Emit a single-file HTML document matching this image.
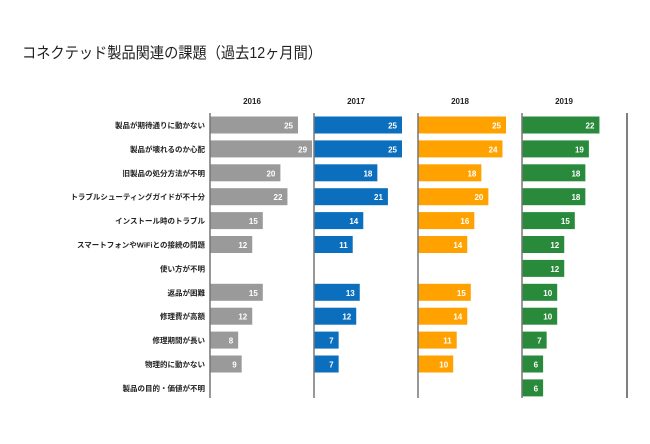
<!DOCTYPE html>
<html><head><meta charset="utf-8"><style>
body{margin:0;background:#fff;}
svg{display:block;font-family:"Liberation Sans","Noto Sans CJK JP",sans-serif;}
</style></head><body>
<svg id="c" width="650" height="444">
<text x="22" y="58" font-size="15.5" textLength="300" lengthAdjust="spacingAndGlyphs" fill="#222">コネクテッド製品関連の課題（過去12ヶ月間）</text>
</svg>
<script>
const categories=["製品が期待通りに動かない","製品が壊れるのか心配","旧製品の処分方法が不明","トラブルシューティングガイドが不十分","インストール時のトラブル","スマートフォンやWiFiとの接続の問題","使い方が不明","返品が困難","修理費が高額","修理期間が長い","物理的に動かない","製品の目的・価値が不明"];
const years=["2016","2017","2018","2019"];
const v2016=[25,29,20,22,15,12,null,15,12,8,9,null];
const v2017=[25,25,18,21,14,11,null,13,12,7,7,null];
const v2018=[25,24,18,20,16,14,null,15,14,11,10,null];
const v2019=[22,19,18,18,15,12,12,10,10,7,6,6];
const series=[v2016,v2017,v2018,v2019];
const colors=["#9a9a9a","#0b6fbd","#ffa200","#2a8a3c"];
const NS="http://www.w3.org/2000/svg";
const svg=document.getElementById('c');
const panelX=i=>210+i*104;
const xs=v=>v*3.52;
const yc=j=>125+j*23.9;
function mk(t,a){const e=document.createElementNS(NS,t);for(const k in a)e.setAttribute(k,a[k]);svg.appendChild(e);return e;}
categories.forEach((c,j)=>{
 const t=mk('text',{x:205,y:yc(j)+3,'font-size':7.5,'font-weight':'bold','text-anchor':'end',fill:'#222'});
 t.textContent=c;
 
 
});
series.forEach((s,i)=>{
 const px=panelX(i);
 s.forEach((v,j)=>{
  if(v==null)return;
  const r=mk('rect',{x:px,y:yc(j)-8.5,width:xs(v),height:17,fill:colors[i]});
  
  
  const t=mk('text',{x:px+xs(v)-5,y:yc(j)+3.5,'font-size':8,'font-weight':'bold','text-anchor':'end',fill:'#fff'});
  t.textContent=v;
  
  
 });
 const l=mk('line',{x1:px,x2:px,y1:113,y2:398,stroke:'#777','stroke-width':1.5});
 
 
 const h=mk('text',{x:px+42,y:104,'font-size':8,'font-weight':'bold','text-anchor':'middle',fill:'#222'});
 h.textContent=years[i];
 
 
});
const rl=mk('line',{x1:627,x2:627,y1:113,y2:398,stroke:'#555','stroke-width':1.5});


</script>
</body></html>
